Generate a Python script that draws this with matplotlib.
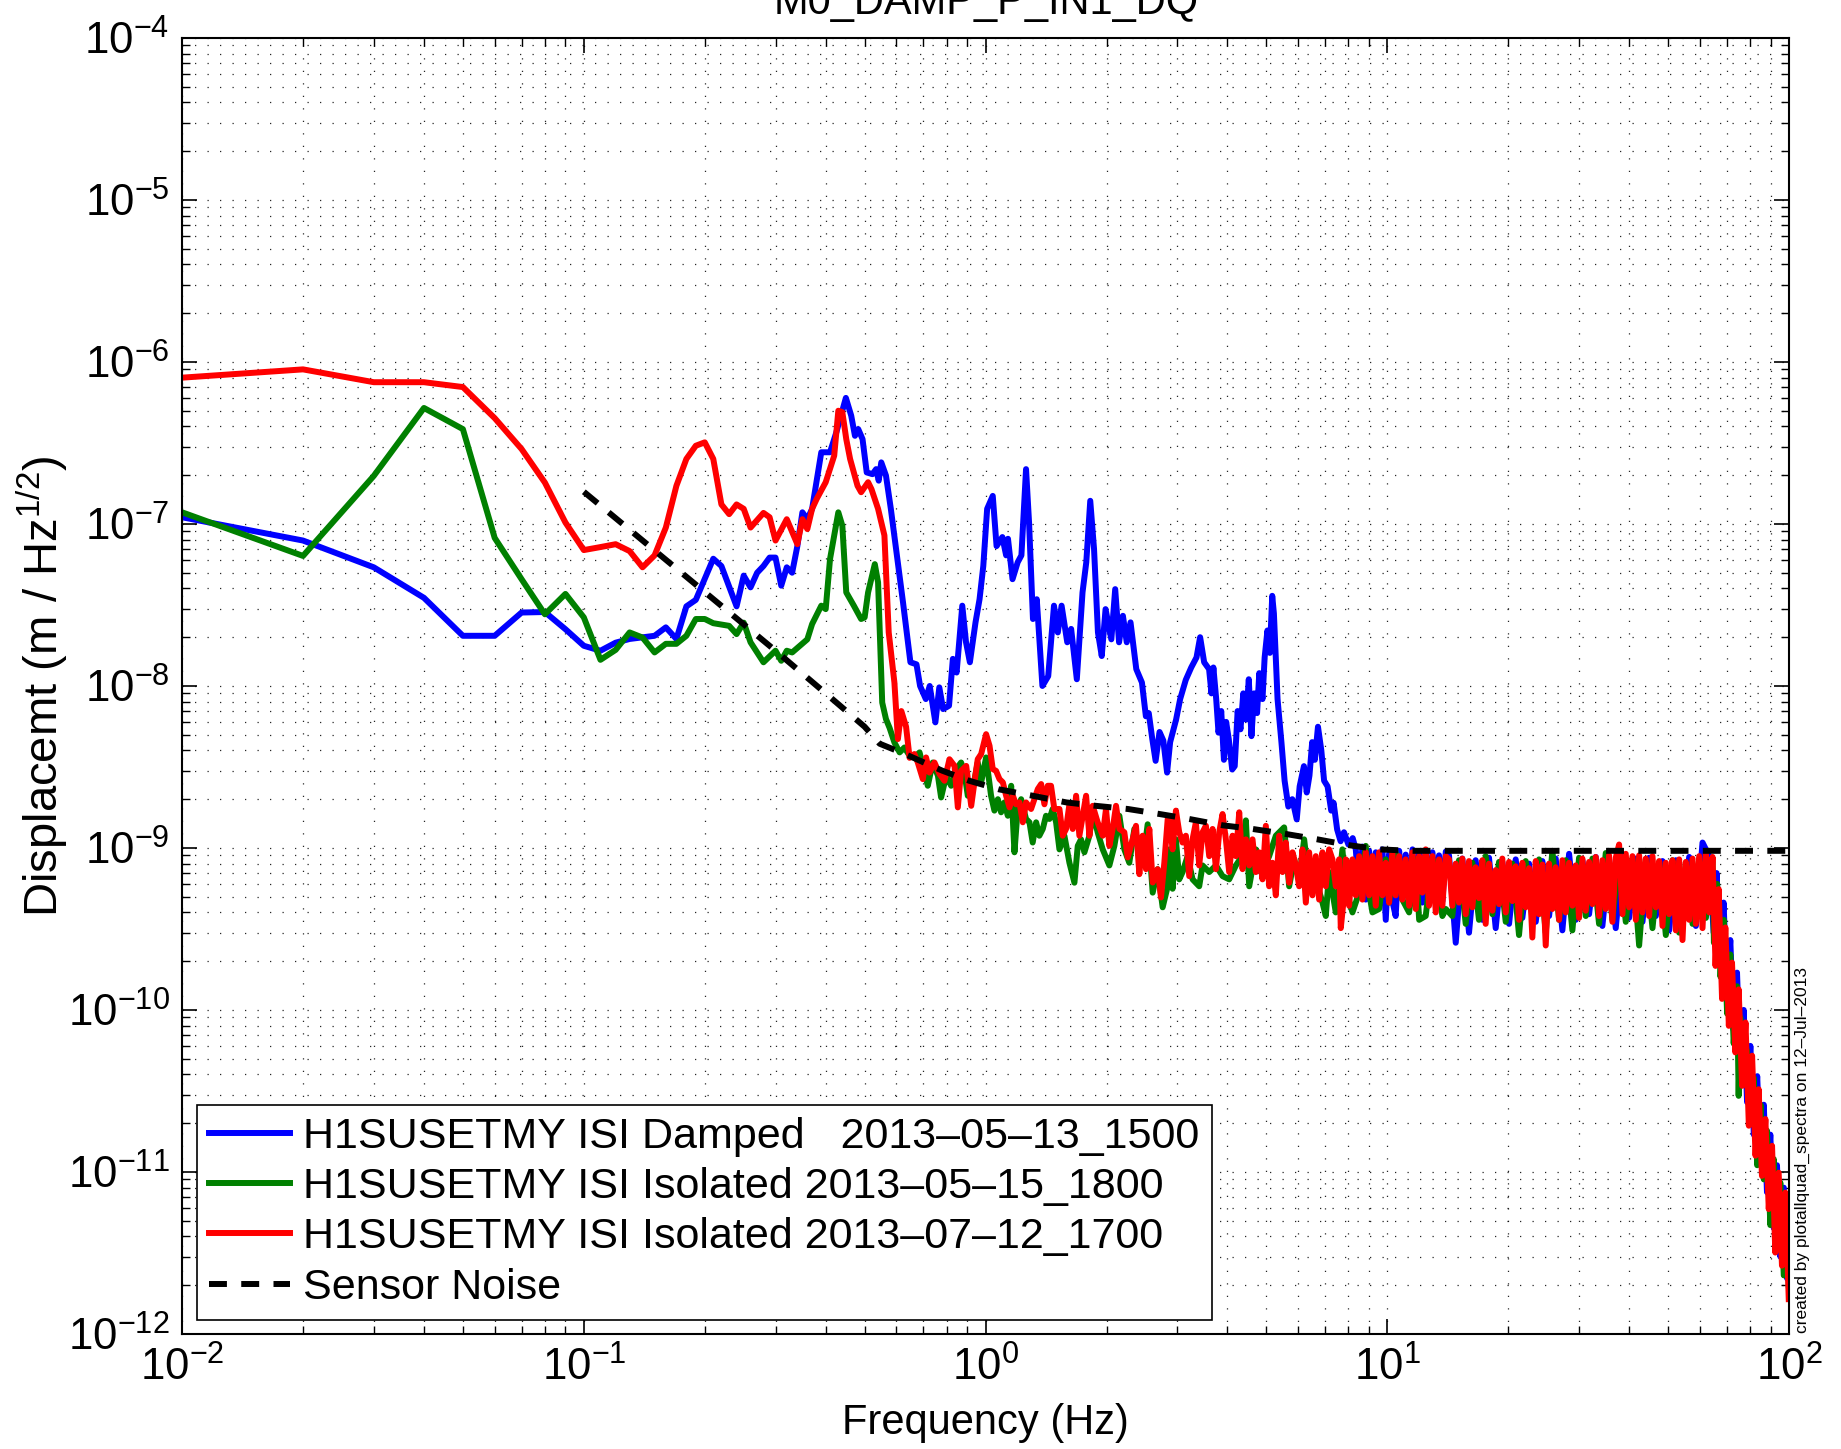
import numpy as np
import matplotlib
matplotlib.use("Agg")
import matplotlib.pyplot as plt

plt.rcParams['font.family'] = ['Liberation Sans', 'DejaVu Sans']
plt.rcParams['mathtext.fontset'] = 'custom'
plt.rcParams['mathtext.rm'] = 'Liberation Sans'
plt.rcParams['mathtext.it'] = 'Liberation Sans:italic'
plt.rcParams['mathtext.bf'] = 'Liberation Sans:bold'

# ---- blue: ISI Damped 2013-05-13_1500 ----
blue_f_low = [0.01, 0.02, 0.03, 0.04, 0.05, 0.06, 0.07, 0.08, 0.09, 0.10, 0.11, 0.12, 0.13,
              0.15, 0.16, 0.17, 0.18, 0.19, 0.21, 0.22, 0.24, 0.25, 0.26, 0.27, 0.28, 0.29,
              0.30, 0.31, 0.32, 0.33, 0.34, 0.35, 0.36, 0.37, 0.39, 0.41, 0.425, 0.449, 0.463,
              0.473, 0.482, 0.494, 0.506, 0.523, 0.534, 0.542, 0.550, 0.565, 0.581, 0.603,
              0.623, 0.650, 0.673, 0.687, 0.710, 0.726, 0.750, 0.767, 0.784, 0.811, 0.829,
              0.847, 0.875, 0.894, 0.914, 0.944, 0.966, 0.987, 1.009, 1.042, 1.065, 1.101,
              1.125, 1.137, 1.167, 1.202, 1.228, 1.261, 1.283, 1.312, 1.341, 1.385, 1.432,
              1.480, 1.513, 1.546, 1.597, 1.633, 1.687, 1.743, 1.781, 1.822, 1.862, 1.904,
              1.946, 1.989, 2.056, 2.102, 2.149, 2.197, 2.246, 2.295, 2.372, 2.45]
blue_v_low = [1.1e-7, 7.9e-8, 5.4e-8, 3.5e-8, 2.04e-8, 2.04e-8, 2.84e-8, 2.86e-8, 2.24e-8,
              1.77e-8, 1.65e-8, 1.85e-8, 1.95e-8, 2.04e-8, 2.3e-8, 1.95e-8, 3.1e-8, 3.4e-8,
              6.1e-8, 5.5e-8, 3.1e-8, 4.8e-8, 4.06e-8, 5.0e-8, 5.5e-8, 6.2e-8, 6.2e-8, 4.16e-8,
              5.4e-8, 5.0e-8, 7.3e-8, 1.18e-7, 1.07e-7, 1.24e-7, 2.77e-7, 2.77e-7, 3.67e-7,
              6.0e-7, 4.66e-7, 3.5e-7, 3.85e-7, 3.34e-7, 2.08e-7, 2.03e-7, 2.18e-7, 1.85e-7,
              2.4e-7, 1.99e-7, 1.24e-7, 6.07e-8, 3.28e-8, 1.4e-8, 1.36e-8, 1.0e-8, 8.3e-9,
              1.0e-8, 5.96e-9, 9.8e-9, 7.2e-9, 7.55e-9, 1.47e-8, 1.21e-8, 3.13e-8, 1.86e-8,
              1.4e-8, 2.47e-8, 3.43e-8, 5.5e-8, 1.24e-7, 1.49e-7, 7.3e-8, 8.3e-8, 6.4e-8,
              8.1e-8, 4.56e-8, 5.8e-8, 6.4e-8, 2.18e-7, 1.02e-7, 2.59e-8, 3.43e-8, 1.0e-8,
              1.15e-8, 3.13e-8, 2.14e-8, 3.13e-8, 1.86e-8, 2.25e-8, 1.1e-8, 3.78e-8, 5.8e-8,
              1.39e-7, 7.0e-8, 2.14e-8, 1.53e-8, 2.98e-8, 1.94e-8, 3.96e-8, 1.86e-8, 2.71e-8,
              1.86e-8, 2.47e-8, 1.27e-8, 1.05e-8]
blue_f_mid = [2.506, 2.548, 2.60, 2.65, 2.71, 2.77, 2.83, 2.88, 2.98, 3.05, 3.15, 3.25, 3.35,
              3.42, 3.50, 3.60, 3.65, 3.69, 3.75, 3.80, 3.86, 3.92, 3.97, 4.03, 4.11, 4.17,
              4.24, 4.31, 4.38, 4.45, 4.52, 4.59, 4.66, 4.74, 4.80, 4.89, 4.95, 5.03, 5.10,
              5.17, 5.22, 5.33, 5.45, 5.55, 5.67, 5.80, 5.95, 6.05, 6.20, 6.30, 6.40, 6.50,
              6.60, 6.72, 6.85, 6.96, 7.10, 7.25, 7.35, 7.50, 7.65, 7.80, 8.00, 8.20]
blue_v_mid = [6.5, 6.8, 4.7, 3.45, 5.2, 4.6, 2.92, 4.5, 6.2, 8.3, 10.9, 13, 15, 20, 14, 12.7,
              9, 13, 8.3, 5.15, 7, 3.5, 6, 4.7, 3.05, 3.2, 7, 5.4, 9, 6.2, 11, 4.9, 9, 6.8,
              12, 8.3, 15, 22, 16, 36, 28, 8.3, 4.5, 2.6, 1.8, 2.0, 1.5, 2.4, 3.2, 2.2, 2.8,
              4.5, 3.5, 5.6, 4.0, 2.6, 2.4, 1.7, 1.9, 1.3, 1.1, 1.25, 1.05, 1.15]  # x 1e-9
blue_f_band = [8.346, 8.506, 8.670, 8.838, 9.008, 9.182, 9.359, 9.539, 9.723, 9.91, 10.10,
               10.29, 10.49, 10.70, 10.90, 11.11, 11.33, 11.55, 11.77, 12.00, 12.22, 12.46,
               12.70, 12.95, 13.20, 13.45, 13.71, 13.98,
               14.24, 14.80, 15.37, 15.97, 16.59, 17.24, 17.91, 18.61, 19.33, 20.09, 20.87,
               21.68, 22.53, 23.41, 24.32, 25.27, 26.25, 27.27, 28.34, 29.44, 30.59, 31.78,
               33.02, 34.30, 35.64, 37.03, 38.48, 39.98, 41.54, 43.16, 44.84, 46.59, 48.41,
               50.29, 52.25, 54.29, 56.41, 58.61, 60.89, 63.27]
blue_v_band = [9.8, 5.3, 10.2, 4.8, 9.6, 5.0, 9.4, 4.4, 9.8, 3.6, 9.2, 4.7, 3.8, 9.6, 4.9,
               9.1, 4.4, 9.8, 5.0, 9.3, 4.6, 9.7, 4.5, 9.4, 5.2, 9.0, 4.7, 9.5,
               9.0, 2.6, 8.6, 3.0, 8.4, 3.6, 8.7, 3.2, 8.2, 3.4, 8.5, 3.7, 8.0, 3.5, 8.3, 3.8,
               8.6, 3.1, 9.2, 3.6, 8.4, 3.9, 8.8, 3.3, 8.5, 3.2, 8.9, 3.7, 8.6, 3.5, 8.7, 3.8,
               8.3, 3.1, 8.4, 3.6, 8.8, 3.3, 10.8, 8.9]  # x 1e-10
blue_f_roll = [64.9, 66.0, 67.4, 68.7, 70.0, 71.4, 72.8, 74.2, 75.6, 77.1, 78.6, 80.1, 81.7,
               83.3, 84.9, 86.5, 88.1, 89.8, 91.6, 93.3, 95.1, 97.0, 98.9, 99.8]
blue_v_roll = [3.0e-10, 7.0e-10, 2.0e-10, 4.6e-10, 1.3e-10, 2.7e-10, 7.5e-11, 1.7e-10, 4.6e-11,
               1.0e-10, 2.7e-11, 6.0e-11, 1.7e-11, 3.9e-11, 1.2e-11, 2.6e-11, 7.5e-12, 1.7e-11,
               4.5e-12, 1.1e-11, 3.0e-12, 8.0e-12, 2.2e-12, 4.0e-12]

# ---- green: ISI Isolated 2013-05-15_1800 ----
green_f_low = [0.01, 0.02, 0.03, 0.04, 0.05, 0.06, 0.07, 0.08, 0.09, 0.10, 0.11, 0.12, 0.13,
               0.14, 0.15, 0.16, 0.17, 0.18, 0.19, 0.20, 0.21, 0.23, 0.24, 0.25, 0.26, 0.28,
               0.30, 0.31, 0.32, 0.33, 0.36, 0.37, 0.39, 0.40, 0.41, 0.43, 0.44, 0.45, 0.47,
               0.49, 0.50, 0.51, 0.53, 0.54, 0.547, 0.553, 0.565, 0.577]
green_v_low = [1.18e-7, 6.35e-8, 1.98e-7, 5.2e-7, 3.85e-7, 8.2e-8, 4.56e-8, 2.77e-8, 3.7e-8,
               2.65e-8, 1.45e-8, 1.67e-8, 2.14e-8, 1.99e-8, 1.61e-8, 1.82e-8, 1.82e-8, 2.04e-8,
               2.59e-8, 2.59e-8, 2.44e-8, 2.35e-8, 2.09e-8, 2.46e-8, 1.86e-8, 1.4e-8, 1.65e-8,
               1.43e-8, 1.65e-8, 1.61e-8, 1.94e-8, 2.41e-8, 3.13e-8, 2.98e-8, 6.07e-8, 1.18e-7,
               9.75e-8, 3.78e-8, 3.13e-8, 2.59e-8, 2.65e-8, 3.78e-8, 5.65e-8, 4.36e-8, 1.69e-8,
               7.9e-9, 6.25e-9, 5.5e-9]
green_f_mid = [0.593, 0.611, 0.628, 0.647, 0.665, 0.685, 0.705, 0.718, 0.739, 0.761, 0.775,
               0.798, 0.821, 0.845, 0.869, 0.886, 0.903, 0.929, 0.956, 0.975, 1.003, 1.032,
               1.052, 1.073, 1.093, 1.114, 1.136, 1.158, 1.180, 1.202, 1.226, 1.261, 1.286,
               1.310, 1.336, 1.361, 1.388, 1.414, 1.442, 1.469, 1.498, 1.527, 1.571, 1.617,
               1.664, 1.696, 1.728, 1.762, 1.813, 1.848, 1.901, 1.957, 2.033, 2.092, 2.153,
               2.215, 2.279, 2.346, 2.414, 2.460, 2.532, 2.606, 2.681, 2.759, 2.840]
green_v_mid = [4.48, 3.89, 4.17, 3.71, 3.62, 3.89, 2.92, 2.42, 3.37, 2.79, 2.05, 2.79, 2.42,
               3.07, 3.37, 2.92, 2.1, 2.31, 3.37, 2.54, 3.62, 2.1, 1.70, 2.0, 1.66, 1.91, 1.58,
               2.42, 0.94, 1.74, 2.0, 1.51, 1.44, 1.08, 1.44, 1.19, 1.31, 1.58, 1.51, 1.74,
               1.44, 0.98, 1.19, 0.81, 0.61, 1.03, 1.13, 0.94, 1.19, 1.66, 1.25, 0.98, 0.78,
               1.03, 1.58, 0.98, 0.81, 1.31, 1.03, 0.81, 1.40, 0.53, 0.74, 0.43, 0.58]  # x 1e-9
green_f_band = [2.866, 2.921, 2.977, 3.034, 3.093, 3.183, 3.275, 3.402, 3.468, 3.603, 3.744,
                3.889, 4.040, 4.198, 4.361, 4.445, 4.531, 4.707, 4.890, 5.080, 5.278, 5.536,
                5.697, 5.863, 6.033, 6.208, 6.388, 6.637, 6.895, 7.028, 7.163, 7.442, 7.730,
                7.881, 8.188, 8.506, 8.838, 9.008, 9.182, 9.539, 9.91, 10.10, 10.49, 10.90,
                11.33, 11.77, 12.00, 12.46, 12.95, 13.20, 13.71, 13.98,
                14.51, 15.08, 15.67, 16.28, 16.91, 17.57, 18.26, 18.97, 19.71, 20.48, 21.27,
                22.10, 22.96, 23.86, 24.79, 25.75, 26.76, 27.80, 28.88, 30.01, 31.18, 32.39,
                33.65, 34.97, 36.33, 37.75, 39.22, 40.75, 42.34, 43.99, 45.71, 47.49, 49.34,
                51.26, 53.26, 55.34, 57.50, 59.74, 62.07, 64.49]
green_v_band = [9.8, 5.6, 11.3, 6.4, 7.1, 8.9, 6.4, 5.8, 7.8, 7.1, 7.8, 6.7, 6.4, 7.8, 9.0,
                14.8, 5.8, 9.8, 7.1, 8.9, 11.9, 13.4, 5.8, 8.5, 6.4, 11.3, 6.1, 6.4, 4.6, 3.8,
                7.1, 4.0, 9.8, 5.6, 4.0, 5.3, 10.3, 5.3, 4.0, 4.2, 8.5, 4.6, 9.4, 4.8, 4.0, 8.5,
                3.6, 3.8, 8.5, 7.8, 3.8, 4.2,
                3.8, 8.4, 3.4, 8.1, 3.6, 8.9, 3.9, 8.2, 3.5, 8.0, 2.9, 8.3, 3.7, 8.5, 3.0, 9.6,
                3.6, 8.4, 3.1, 8.7, 3.8, 8.6, 3.4, 9.3, 3.6, 8.8, 3.5, 8.6, 2.5, 8.5, 3.2, 8.2,
                2.9, 8.4, 3.0, 8.1, 3.4, 8.6, 3.7, 8.2]  # x 1e-10
green_f_roll = [65.0, 66.2, 67.5, 68.8, 70.1, 71.4, 72.8, 74.2, 74.9, 75.6, 77.1, 78.6, 80.1,
                81.7, 83.3, 84.9, 86.5, 88.1, 89.8, 91.6, 93.3, 95.1, 97.0, 98.9, 99.8]
green_v_roll = [2.6e-10, 6.0e-10, 1.6e-10, 3.6e-10, 9.5e-11, 2.2e-10, 6.2e-11, 1.4e-10,
                2.95e-11, 9.0e-11, 3.6e-11, 5.6e-11, 2.2e-11, 3.8e-11, 1.1e-11, 2.6e-11,
                9.0e-12, 1.8e-11, 4.7e-12, 1.2e-11, 3.4e-12, 8.6e-12, 2.3e-12, 6.5e-12, 2.0e-12]

# ---- red: ISI Isolated 2013-07-12_1700 ----
red_f_low = [0.01, 0.02, 0.03, 0.04, 0.05, 0.06, 0.07, 0.08, 0.09, 0.10, 0.11, 0.12, 0.13,
             0.14, 0.15, 0.16, 0.17, 0.18, 0.19, 0.20, 0.21, 0.22, 0.23, 0.24, 0.25, 0.26,
             0.28, 0.29, 0.30, 0.32, 0.34, 0.35, 0.36, 0.37, 0.38, 0.40, 0.42, 0.43, 0.44,
             0.45, 0.46, 0.48, 0.49, 0.51, 0.52, 0.54, 0.56, 0.574, 0.593]
red_v_low = [8.0e-7, 9.0e-7, 7.5e-7, 7.5e-7, 7.0e-7, 4.5e-7, 2.9e-7, 1.8e-7, 1.02e-7, 6.9e-8,
             7.2e-8, 7.5e-8, 6.8e-8, 5.4e-8, 6.4e-8, 9.5e-8, 1.72e-7, 2.52e-7, 3.04e-7, 3.19e-7,
             2.52e-7, 1.32e-7, 1.15e-7, 1.32e-7, 1.24e-7, 9.5e-8, 1.17e-7, 1.1e-7, 7.9e-8,
             1.07e-7, 7.5e-8, 1.07e-7, 9.3e-8, 1.24e-7, 1.43e-7, 1.81e-7, 2.64e-7, 5.0e-7,
             4.9e-7, 3.34e-7, 2.52e-7, 1.72e-7, 1.57e-7, 1.81e-7, 1.64e-7, 1.24e-7, 8.5e-8,
             2.14e-8, 1.05e-8]
red_f_mid = [0.605, 0.617, 0.634, 0.647, 0.665, 0.678, 0.698, 0.711, 0.725, 0.746, 0.768,
             0.790, 0.813, 0.837, 0.853, 0.869, 0.895, 0.921, 0.938, 0.956, 0.975, 1.003,
             1.023, 1.042, 1.062, 1.083, 1.104, 1.125, 1.147, 1.169, 1.191, 1.214, 1.238,
             1.261, 1.298, 1.323, 1.349, 1.375, 1.401, 1.428, 1.455, 1.483, 1.527, 1.556,
             1.586, 1.617, 1.648, 1.680, 1.712, 1.745, 1.779, 1.813, 1.848, 1.901, 1.957,
             1.994, 2.033, 2.072, 2.112, 2.153, 2.215, 2.258, 2.323, 2.368, 2.414, 2.460,
             2.508, 2.556, 2.606, 2.681, 2.733, 2.786, 2.840]
red_v_mid = [4.7, 7.0, 5.6, 3.6, 3.8, 3.37, 2.66, 3.62, 2.92, 3.37, 2.86, 2.6, 3.53, 3.21,
             1.78, 2.99, 3.21, 1.82, 2.54, 3.53, 3.8, 5.04, 4.27, 3.07, 2.99, 2.66, 2.54, 2.1,
             1.78, 2.1, 1.86, 1.91, 1.44, 1.91, 1.74, 2.0, 2.31, 2.48, 1.86, 2.42, 2.42, 1.74,
             1.74, 1.19, 1.31, 1.86, 1.31, 2.1, 1.19, 1.58, 2.1, 1.19, 1.82, 1.44, 1.19, 1.74,
             1.03, 1.31, 1.82, 1.31, 1.25, 0.874, 1.13, 1.37, 0.689, 1.19, 0.74, 1.31, 0.612,
             0.74, 0.495, 0.814, 1.51]  # x 1e-9
red_f_band = [2.866, 2.921, 2.977, 3.034, 3.093, 3.152, 3.213, 3.275, 3.338, 3.402, 3.468,
              3.535, 3.603, 3.673, 3.744, 3.815, 3.889, 3.964, 4.040, 4.118, 4.198, 4.279,
              4.361, 4.445, 4.531, 4.618, 4.707, 4.797, 4.890, 4.984, 5.080, 5.178, 5.278,
              5.380, 5.484, 5.589, 5.697, 5.807, 5.919, 6.033, 6.149, 6.268, 6.388, 6.511,
              6.637, 6.765, 6.895, 7.028, 7.163, 7.301, 7.442, 7.586, 7.658, 7.806, 7.881,
              8.033, 8.188, 8.346, 8.506, 8.670, 8.838, 9.008, 9.182, 9.359, 9.539, 9.723,
              9.91, 10.10, 10.29, 10.49, 10.70, 10.90, 11.11, 11.33, 11.55, 11.77, 12.00,
              12.22, 12.46, 12.70, 12.95, 13.20, 13.45, 13.71, 13.98,
              14.24, 14.51, 14.80, 15.08, 15.37, 15.67, 15.97, 16.28, 16.59, 16.91,
              17.24, 17.57, 17.91, 18.26, 18.61, 18.97, 19.33, 19.71, 20.09, 20.48,
              20.87, 21.27, 21.68, 22.10, 22.53, 22.96, 23.41, 23.86, 24.32, 24.79,
              25.27, 25.75, 26.25, 26.76, 27.27, 27.80, 28.34, 28.88, 29.44, 30.01,
              30.59, 31.18, 31.78, 32.39, 33.02, 33.65, 34.30, 34.97, 35.64, 36.33,
              37.03, 37.75, 38.48, 39.22, 39.98, 40.75, 41.54, 42.34, 43.16, 43.99,
              44.84, 45.71, 46.59, 47.49, 48.41, 49.34, 50.29, 51.26, 52.25, 53.26,
              54.29, 55.34, 56.41, 57.50, 58.61, 59.74, 60.89, 62.07, 63.27, 64.49]
red_v_band = [15.1, 9.8, 17.0, 12.5, 10.8, 11.9, 6.7, 11.3, 14.4, 7.8, 12.5, 13.7, 8.9, 13.1,
              7.4, 12.5, 16.2, 11.3, 7.1, 11.9, 8.9, 16.6, 7.4, 11.3, 7.8, 11.3, 7.1, 9.4, 6.4,
              13.7, 5.8, 8.1, 5.1, 11.9, 7.1, 10.8, 6.1, 9.4, 7.8, 5.8, 9.8, 4.6, 9.4, 5.1,
              8.9, 4.8, 9.4, 5.8, 9.8, 8.5, 5.8, 8.5, 3.2, 5.1, 8.5, 4.4, 8.5, 5.1, 8.9, 4.8,
              9.4, 5.1, 8.9, 4.4, 9.4, 5.1, 8.1, 4.6, 9.4, 5.1, 8.9, 4.8, 8.5, 4.4, 9.4, 4.2,
              8.9, 5.3, 9.8, 4.4, 8.9, 4.0, 8.5, 4.4, 8.9,
              8.5, 4.4, 8.0, 4.6, 8.6, 3.9, 8.3, 4.3, 7.6, 4.9,
              8.4, 3.4, 8.0, 4.1, 7.3, 4.5, 8.6, 4.0, 8.2, 4.7,
              7.7, 3.6, 8.1, 4.3, 7.5, 2.8, 8.3, 3.9, 7.9, 2.5,
              8.0, 4.2, 7.6, 3.6, 8.4, 4.0, 8.1, 4.4, 7.8, 3.7,
              8.6, 4.1, 8.2, 4.5, 8.8, 3.8, 8.4, 4.2, 9.0, 3.5,
              8.7, 10.5, 3.9, 9.2, 4.3, 8.9, 3.6, 9.0, 4.0, 8.6,
              3.8, 8.9, 4.3, 8.3, 3.3, 8.1, 3.9, 8.4, 3.1, 8.5,
              2.7, 8.2, 3.6, 8.6, 3.4, 8.9, 3.2, 9.3, 4.0, 8.8]  # x 1e-10
red_f_roll = [65.6, 66.8, 68.1, 69.4, 70.8, 72.1, 73.5, 74.9, 76.4, 77.9, 79.4, 80.9, 82.5,
              84.0, 85.6, 87.3, 89.0, 90.7, 92.4, 94.2, 96.0, 97.9, 99.8]
red_v_roll = [1.87e-10, 5.57e-10, 1.17e-10, 3.23e-10, 7.98e-11, 1.96e-10, 5.47e-11, 1.34e-10,
              3.40e-11, 8.37e-11, 1.93e-11, 5.22e-11, 1.26e-11, 3.24e-11, 9.46e-12, 2.12e-11,
              5.9e-12, 1.45e-11, 3.18e-12, 9.9e-12, 2.64e-12, 7.46e-12, 1.64e-12]

# ---- sensor noise model ----
noise_f = [0.1, 0.2, 0.3, 0.4, 0.5, 0.545, 0.63, 0.78, 0.91, 1.08, 1.31, 1.59, 1.88, 2.26,
           2.71, 3.21, 3.89, 4.62, 5.59, 6.7, 8.03, 9.54, 11.5, 100]
noise_v = [1.58e-7, 3.8e-8, 1.65e-8, 9.0e-9, 5.6e-9, 4.4e-9, 3.8e-9, 3.0e-9, 2.6e-9, 2.3e-9,
           2.1e-9, 1.91e-9, 1.82e-9, 1.74e-9, 1.62e-9, 1.51e-9, 1.38e-9, 1.31e-9, 1.22e-9,
           1.13e-9, 1.04e-9, 9.8e-10, 9.6e-10, 9.6e-10]

labels = ['H1SUSETMY ISI Damped   2013\u201305\u201313_1500',
          'H1SUSETMY ISI Isolated 2013\u201305\u201315_1800',
          'H1SUSETMY ISI Isolated 2013\u201307\u201312_1700',
          'Sensor Noise']


def series(f_parts, v_parts):
    return np.concatenate([np.asarray(p, float) for p in f_parts]), \
        np.concatenate([np.asarray(p, float) for p in v_parts])


blue_f, blue_v = series([blue_f_low, blue_f_mid, blue_f_band, blue_f_roll],
                        [blue_v_low, np.array(blue_v_mid) * 1e-9,
                         np.array(blue_v_band) * 1e-10, blue_v_roll])
green_f, green_v = series([green_f_low, green_f_mid, green_f_band, green_f_roll],
                          [green_v_low, np.array(green_v_mid) * 1e-9,
                           np.array(green_v_band) * 1e-10, green_v_roll])
red_f, red_v = series([red_f_low, red_f_mid, red_f_band, red_f_roll],
                      [red_v_low, np.array(red_v_mid) * 1e-9,
                       np.array(red_v_band) * 1e-10, red_v_roll])

fig = plt.figure(figsize=(18.41, 14.49), dpi=100)
ax = fig.add_axes([0.0989, 0.0794, 0.8729, 0.8944])

lw = 4.3
ax.loglog(blue_f, blue_v, color=(0, 0, 1), lw=lw, label=labels[0])
ax.loglog(green_f, green_v, color=(0, 0.5, 0), lw=lw, label=labels[1])
ax.loglog(red_f, red_v, color=(1, 0, 0), lw=lw, label=labels[2])
ax.loglog(noise_f, noise_v, color='k', lw=lw, ls=(0, (3.0, 2.4)), label=labels[3])

ax.set_xlim(1e-2, 1e2)
ax.set_ylim(1e-12, 1e-4)

ax.grid(True, which='both', color='k', lw=0.9, ls=(0, (1, 9)), alpha=0.85)
ax.tick_params(which='both', direction='in', top=True, right=True, labelsize=31.5)
ax.tick_params(which='major', length=11, width=1.2, pad=9)
ax.tick_params(which='minor', length=6, width=1.0)
for s in ax.spines.values():
    s.set_linewidth(1.5)

ax.set_xlabel('Frequency (Hz)', fontsize=30, va='center')
ax.xaxis.set_label_coords(0.5, -0.069)
ax.set_ylabel('Displacemt (m / Hz$^{1/2}$)', fontsize=34, va='center')
ax.yaxis.set_label_coords(-0.087, 0.5)

leg = ax.legend(loc='lower left', bbox_to_anchor=(0.009, 0.011), borderaxespad=0,
                fontsize=31, fancybox=False, framealpha=1, edgecolor='k',
                handlelength=1.9, handletextpad=0.3, labelspacing=0.24, borderpad=0.28)
leg.get_frame().set_linewidth(1.2)

fig.text(986 / 1841, 1 - 14 / 1449, 'M0_DAMP_P_IN1_DQ', fontsize=30, ha='center', va='baseline')
fig.text(1802 / 1841, 1 - 1333 / 1449, 'created by plotallquad_spectra on 12\u2013Jul\u20132013',
         fontsize=12.5, rotation=90, ha='center', va='bottom')

fig.savefig('out.png', dpi=100)
